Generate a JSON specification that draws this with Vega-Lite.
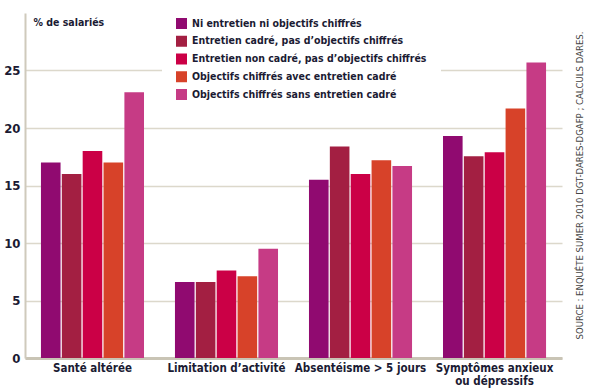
{
  "$schema": "https://vega.github.io/schema/vega-lite/v6.json",
  "width": 537,
  "height": 345,
  "autosize": {"type": "none"},
  "padding": {"left": 25, "top": 13, "right": 27, "bottom": 30},
  "background": "white",
  "title": {
    "text": "SOURCE : ENQUÊTE SUMER 2010 DGT-DARES-DGAFP ; CALCULS DARES.",
    "orient": "right",
    "anchor": "middle",
    "angle": -90,
    "fontSize": 9.5,
    "fontWeight": "normal",
    "color": "#444444",
    "font": "DejaVu Sans Condensed",
    "offset": 3
  },
  "data": {
    "values": [
      {"cat": "Santé altérée", "serie": "Ni entretien ni objectifs chiffrés", "val": 17.0},
      {"cat": "Santé altérée", "serie": "Entretien cadré, pas d’objectifs chiffrés", "val": 16.0},
      {"cat": "Santé altérée", "serie": "Entretien non cadré, pas d’objectifs chiffrés", "val": 18.0},
      {"cat": "Santé altérée", "serie": "Objectifs chiffrés avec entretien cadré", "val": 17.0},
      {"cat": "Santé altérée", "serie": "Objectifs chiffrés sans entretien cadré", "val": 23.1},
      {"cat": "Limitation d’activité", "serie": "Ni entretien ni objectifs chiffrés", "val": 6.6},
      {"cat": "Limitation d’activité", "serie": "Entretien cadré, pas d’objectifs chiffrés", "val": 6.6},
      {"cat": "Limitation d’activité", "serie": "Entretien non cadré, pas d’objectifs chiffrés", "val": 7.6},
      {"cat": "Limitation d’activité", "serie": "Objectifs chiffrés avec entretien cadré", "val": 7.1},
      {"cat": "Limitation d’activité", "serie": "Objectifs chiffrés sans entretien cadré", "val": 9.5},
      {"cat": "Absentéisme > 5 jours", "serie": "Ni entretien ni objectifs chiffrés", "val": 15.5},
      {"cat": "Absentéisme > 5 jours", "serie": "Entretien cadré, pas d’objectifs chiffrés", "val": 18.4},
      {"cat": "Absentéisme > 5 jours", "serie": "Entretien non cadré, pas d’objectifs chiffrés", "val": 16.0},
      {"cat": "Absentéisme > 5 jours", "serie": "Objectifs chiffrés avec entretien cadré", "val": 17.2},
      {"cat": "Absentéisme > 5 jours", "serie": "Objectifs chiffrés sans entretien cadré", "val": 16.7},
      {"cat": "Symptômes anxieux ou dépressifs", "serie": "Ni entretien ni objectifs chiffrés", "val": 19.3},
      {"cat": "Symptômes anxieux ou dépressifs", "serie": "Entretien cadré, pas d’objectifs chiffrés", "val": 17.55},
      {"cat": "Symptômes anxieux ou dépressifs", "serie": "Entretien non cadré, pas d’objectifs chiffrés", "val": 17.9},
      {"cat": "Symptômes anxieux ou dépressifs", "serie": "Objectifs chiffrés avec entretien cadré", "val": 21.7},
      {"cat": "Symptômes anxieux ou dépressifs", "serie": "Objectifs chiffrés sans entretien cadré", "val": 25.7}
    ]
  },
  "mark": {"type": "bar"},
  "encoding": {
    "x": {
      "field": "cat",
      "type": "nominal",
      "sort": null,
      "scale": {"paddingInner": 0.231, "paddingOuter": 0.119},
      "axis": {
        "title": null,
        "labelAngle": 0,
        "labelExpr": "datum.value == 'Symptômes anxieux ou dépressifs' ? ['Symptômes anxieux', 'ou dépressifs'] : datum.value",
        "labelFontSize": 11.5,
        "labelFontWeight": "bold",
        "labelColor": "#1b1b33",
        "labelPadding": 4,
        "labelLineHeight": 13,
        "ticks": false,
        "domainColor": "#c9c4b5",
        "domainWidth": 3
      }
    },
    "xOffset": {
      "field": "serie",
      "type": "nominal",
      "sort": null,
      "scale": {"paddingInner": 0.06}
    },
    "y": {
      "field": "val",
      "type": "quantitative",
      "scale": {"domain": [0, 30], "nice": false},
      "axis": {
        "title": "% de salariés",
        "titleAngle": 0,
        "titleAlign": "left",
        "titleBaseline": "alphabetic",
        "titleX": 8,
        "titleY": 12,
        "titleFontSize": 10.5,
        "titleFontWeight": "bold",
        "titleColor": "#1b1b33",
        "values": [0, 5, 10, 15, 20, 25],
        "labelFontSize": 13,
        "labelFontWeight": "bold",
        "labelColor": "#1b1b33",
        "labelPadding": 5,
        "ticks": false,
        "grid": true,
        "gridColor": "#dcd8cb",
        "gridWidth": 1.5,
        "domainColor": "#cfcabc",
        "domainWidth": 2
      }
    },
    "color": {
      "field": "serie",
      "type": "nominal",
      "sort": null,
      "scale": {
        "domain": [
          "Ni entretien ni objectifs chiffrés",
          "Entretien cadré, pas d’objectifs chiffrés",
          "Entretien non cadré, pas d’objectifs chiffrés",
          "Objectifs chiffrés avec entretien cadré",
          "Objectifs chiffrés sans entretien cadré"
        ],
        "range": ["#900a70", "#a31f42", "#cb0046", "#d74229", "#c63b85"]
      },
      "legend": {
        "title": null,
        "orient": "none",
        "legendX": 137,
        "legendY": -9,
        "fillColor": "white",
        "padding": 14,
        "symbolType": "square",
        "symbolSize": 121,
        "symbolStrokeWidth": 0,
        "labelFontSize": 10.5,
        "labelFontWeight": "bold",
        "labelColor": "#1b1b33",
        "labelOffset": 5,
        "labelLimit": 300,
        "rowPadding": 6.75
      }
    }
  },
  "config": {
    "view": {"stroke": null},
    "font": "DejaVu Sans Condensed"
  }
}
